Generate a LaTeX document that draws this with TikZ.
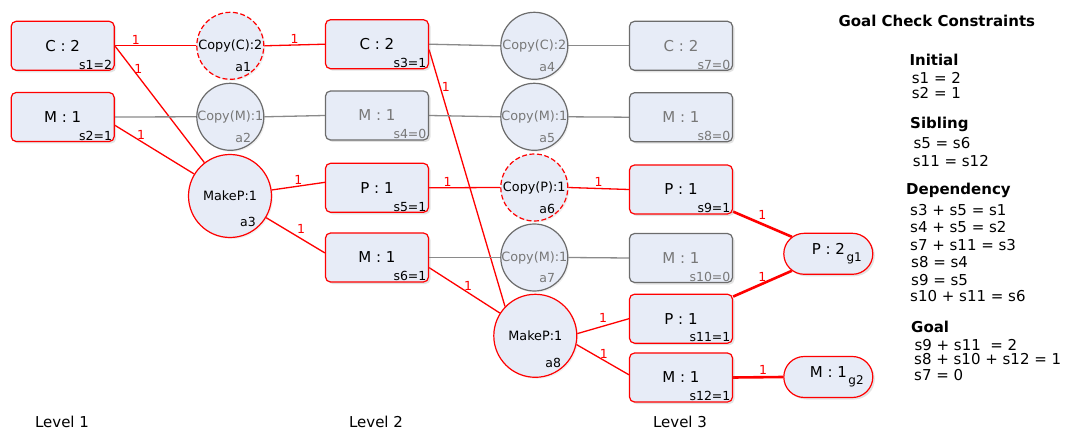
\documentclass[tikz,border=0pt]{standalone}
\usepackage{fontspec}
\setmainfont{DejaVu Sans}
\usetikzlibrary{shapes.misc,shadows,backgrounds}
\definecolor{nodefill}{RGB}{231,236,247}
\definecolor{hot}{RGB}{255,0,0}
\definecolor{idle}{RGB}{108,108,108}
\definecolor{idletext}{RGB}{120,120,120}
\definecolor{linegray}{RGB}{138,138,138}
\tikzset{
  statebox/.style={rectangle, draw, rounded corners=5pt, fill=nodefill,
    minimum width=103pt, minimum height=49pt, inner sep=0pt, line width=1.2pt,
    font=\fontsize{15}{15}\selectfont,
    drop shadow={opacity=0.22, shadow xshift=2pt, shadow yshift=-2pt}},
  live/.style={draw=hot, text=black},
  dead/.style={draw=idle, text=idletext},
  act/.style={circle, draw, fill=nodefill, inner sep=0pt, line width=1.2pt,
    font=\fontsize{12.8}{12.8}\selectfont,
    drop shadow={opacity=0.12, shadow xshift=1.5pt, shadow yshift=-1.5pt}},
  copyact/.style={act, minimum size=67pt},
  makeact/.style={act, minimum size=83pt},
  chosen/.style={draw=hot, dash pattern=on 5pt off 2.5pt},
  goalbox/.style={rounded rectangle, draw=hot, fill=nodefill, line width=1.2pt,
    minimum width=89pt, minimum height=41pt, inner sep=0pt,
    font=\fontsize{15}{15}\selectfont,
    drop shadow={opacity=0.22, shadow xshift=2pt, shadow yshift=-2pt}},
  sub/.style={inner sep=1.5pt, font=\fontsize{12.5}{12.5}\selectfont},
  subr/.style={sub, anchor=south east},
  redline/.style={draw=hot, line width=1.3pt},
  grayline/.style={draw=linegray, line width=1.3pt},
  goalline/.style={draw=hot, line width=2.6pt},
  lbl/.style={text=hot, inner sep=1pt, font=\fontsize{12.5}{12.5}\selectfont},
  levellbl/.style={font=\fontsize{15}{15}\selectfont},
  paneltxt/.style={anchor=base west, inner sep=0pt, font=\fontsize{15}{15}\selectfont},
  panelhead/.style={anchor=base west, inner sep=0pt, font=\fontsize{15}{15}\selectfont\bfseries},
}
\newcommand{\goalsub}[1]{\hspace{1.5pt}\raisebox{-7pt}{\fontsize{12}{12}\selectfont #1}}
\begin{document}
\begin{tikzpicture}[x=1pt,y=-1pt]
\useasboundingbox (0,0) rectangle (1069,433);

% ---- level 1 states
\node[statebox,live] (c1) at (62.7,45.8) {C : 2};
\node[subr] (c1s) at ([xshift=-1pt]c1.south east) {s1=2};
\node[statebox,live] (m1) at (62.7,117) {M : 1};
\node[subr] (m1s) at ([xshift=-1pt]m1.south east) {s2=1};

% ---- level 1 actions
\node[copyact,chosen] (a1) at (230.3,45.8) {Copy(C):2};
\node[sub] (a1l) at ([shift={(13,21)}]a1.center) {a1};
\node[copyact,draw=idle,text=idletext] (a2) at (230.3,116.8) {Copy(M):1};
\node[sub,text=idletext] (a2l) at ([shift={(13,21)}]a2.center) {a2};
\node[makeact,draw=hot] (a3) at (230,196) {MakeP:1};
\node[sub] (a3l) at ([shift={(18,26)}]a3.center) {a3};

% ---- level 2 states
\node[statebox,live] (c2) at (377,44.2) {C : 2};
\node[subr] (c2s) at ([xshift=-1pt]c2.south east) {s3=1};
\node[statebox,dead] (m2a) at (377,115.5) {M : 1};
\node[subr,text=idletext] (m2as) at ([xshift=-1pt]m2a.south east) {s4=0};
\node[statebox,live] (p2) at (377,187.8) {P : 1};
\node[subr] (p2s) at ([xshift=-1pt]p2.south east) {s5=1};
\node[statebox,live] (m2b) at (377,257.5) {M : 1};
\node[subr] (m2bs) at ([xshift=-1pt]m2b.south east) {s6=1};

% ---- level 2 actions
\node[copyact,draw=idle,text=idletext] (a4) at (534.3,45.8) {Copy(C):2};
\node[sub,text=idletext] (a4l) at ([shift={(13,21)}]a4.center) {a4};
\node[copyact,draw=idle,text=idletext] (a5) at (534.3,116.8) {Copy(M):1};
\node[sub,text=idletext] (a5l) at ([shift={(13,21)}]a5.center) {a5};
\node[copyact,chosen] (a6) at (534.3,187.5) {Copy(P):1};
\node[sub] (a6l) at ([shift={(13,21)}]a6.center) {a6};
\node[copyact,draw=idle,text=idletext] (a7) at (534.3,257.5) {Copy(M):1};
\node[sub,text=idletext] (a7l) at ([shift={(13,21)}]a7.center) {a7};
\node[makeact,draw=hot] (a8) at (535.3,335.8) {MakeP:1};
\node[sub] (a8l) at ([shift={(18,27)}]a8.center) {a8};

% ---- level 3 states
\node[statebox,dead] (c3) at (681,45.8) {C : 2};
\node[subr,text=idletext] (c3s) at ([xshift=-1pt]c3.south east) {s7=0};
\node[statebox,dead] (m3a) at (681,117.2) {M : 1};
\node[subr,text=idletext] (m3as) at ([xshift=-1pt]m3a.south east) {s8=0};
\node[statebox,live] (p3a) at (681,189.5) {P : 1};
\node[subr] (p3as) at ([xshift=-1pt]p3a.south east) {s9=1};
\node[statebox,dead] (m3b) at (681,258) {M : 1};
\node[subr,text=idletext] (m3bs) at ([xshift=-1pt]m3b.south east) {s10=0};
\node[statebox,live] (p3b) at (681,318.7) {P : 1};
\node[subr] (p3bs) at ([xshift=-1pt]p3b.south east) {s11=1};
\node[statebox,live] (m3c) at (681,377.5) {M : 1};
\node[subr] (m3cs) at ([xshift=-1pt]m3c.south east) {s12=1};

% ---- goals
\node[goalbox] (g1) at (828.3,253.8) {\hspace*{17pt}P : 2\goalsub{g1}};
\node[goalbox] (g2) at (828.3,377) {\hspace*{17pt}M : 1\goalsub{g2}};

% ---- connectors
\begin{scope}[on background layer]
  \draw[redline] (c1.east) -- (a1.west) node[lbl,pos=0.26,above] (e1) {1};
  \draw[redline] (c1.east) -- (a3) node[lbl,pos=0.2,right] (e2) {1};
  \draw[grayline] (m1.east) -- (a2.west);
  \draw[redline] (m1.-9) -- (a3) node[lbl,pos=0.33,above] (e3) {1};
  \draw[redline] (a1.east) -- (c2.west) node[lbl,pos=0.5,above] (e4) {1};
  \draw[grayline] (a2.east) -- (m2a.west);
  \draw[redline] (a3) -- (p2.174) node[lbl,pos=0.5,above] (e5) {1};
  \draw[redline] (a3) -- (m2b.175) node[lbl,pos=0.5,above right] (e6) {1};

  \draw[grayline] (c2.east) -- (a4.west);
  \draw[redline] (c2.-6) -- (a8.136) node[lbl,pos=0.145,right] (e7) {1};
  \draw[grayline] (m2a.east) -- (a5.west);
  \draw[redline] (p2.east) -- (a6.west) node[lbl,pos=0.26,above] (e8) {1};
  \draw[grayline] (m2b.east) -- (a7.west);
  \draw[redline] (m2b.-11) -- (a8) node[lbl,pos=0.55,above] (e9) {1};

  \draw[grayline] (a4.east) -- (c3.west);
  \draw[grayline] (a5.east) -- (m3a.west);
  \draw[redline] (a6.east) -- (p3a.west) node[lbl,pos=0.5,above] (e10) {1};
  \draw[grayline] (a7.east) -- (m3b.west);
  \draw[redline] (a8.3) -- (p3b.west) node[lbl,pos=0.5,above=2pt] (e11) {1};
  \draw[redline] (a8.-12) -- (m3c.177) node[lbl,pos=0.52,above] (e12) {1};

  \draw[goalline] (p3a.-23) -- (g1.155) node[lbl,pos=0.5,above=2pt] (e13) {1};
  \draw[goalline] (p3b.23) -- (g1.205) node[lbl,pos=0.5,above] (e14) {1};
  \draw[goalline] (m3c.east) -- (g2.west) node[lbl,pos=0.6,above] (e15) {1};
\end{scope}

% ---- level captions
\node[levellbl] (lv1) at (62,422) {Level 1};
\node[levellbl] (lv2) at (376,422) {Level 2};
\node[levellbl] (lv3) at (680,422) {Level 3};

% ---- constraint panel
\node[panelhead] (ph) at (838.3,26.7) {Goal Check Constraints};
\node[panelhead] (hi) at (909.3,65.7) {Initial};
\node[paneltxt] (i1) at (911.7,83.3) {s1 = 2};
\node[paneltxt] (i2) at (911.7,98.3) {s2 = 1};
\node[panelhead] (hs) at (910,129) {Sibling};
\node[paneltxt] (b1) at (913.3,148.3) {s5 = s6};
\node[paneltxt] (b2) at (912.7,166.7) {s11 = s12};
\node[panelhead] (hd) at (906,195) {Dependency};
\node[paneltxt] (d1) at (910,215) {s3 + s5 = s1};
\node[paneltxt] (d2) at (910,232.7) {s4 + s5 = s2};
\node[paneltxt] (d3) at (910,250) {s7 + s11 = s3};
\node[paneltxt] (d4) at (911,267.3) {s8 = s4};
\node[paneltxt] (d5) at (911,285) {s9 = s5};
\node[paneltxt] (d6) at (910,301.7) {s10 + s11 = s6};
\node[panelhead] (hg) at (911,332.7) {Goal};
\node[paneltxt] (o1) at (914.3,350) {s9 + s11~ = 2};
\node[paneltxt] (o2) at (914,364.3) {s8 + s10 + s12 = 1};
\node[paneltxt] (o3) at (914,380.7) {s7 = 0};
\end{tikzpicture}
\end{document}
